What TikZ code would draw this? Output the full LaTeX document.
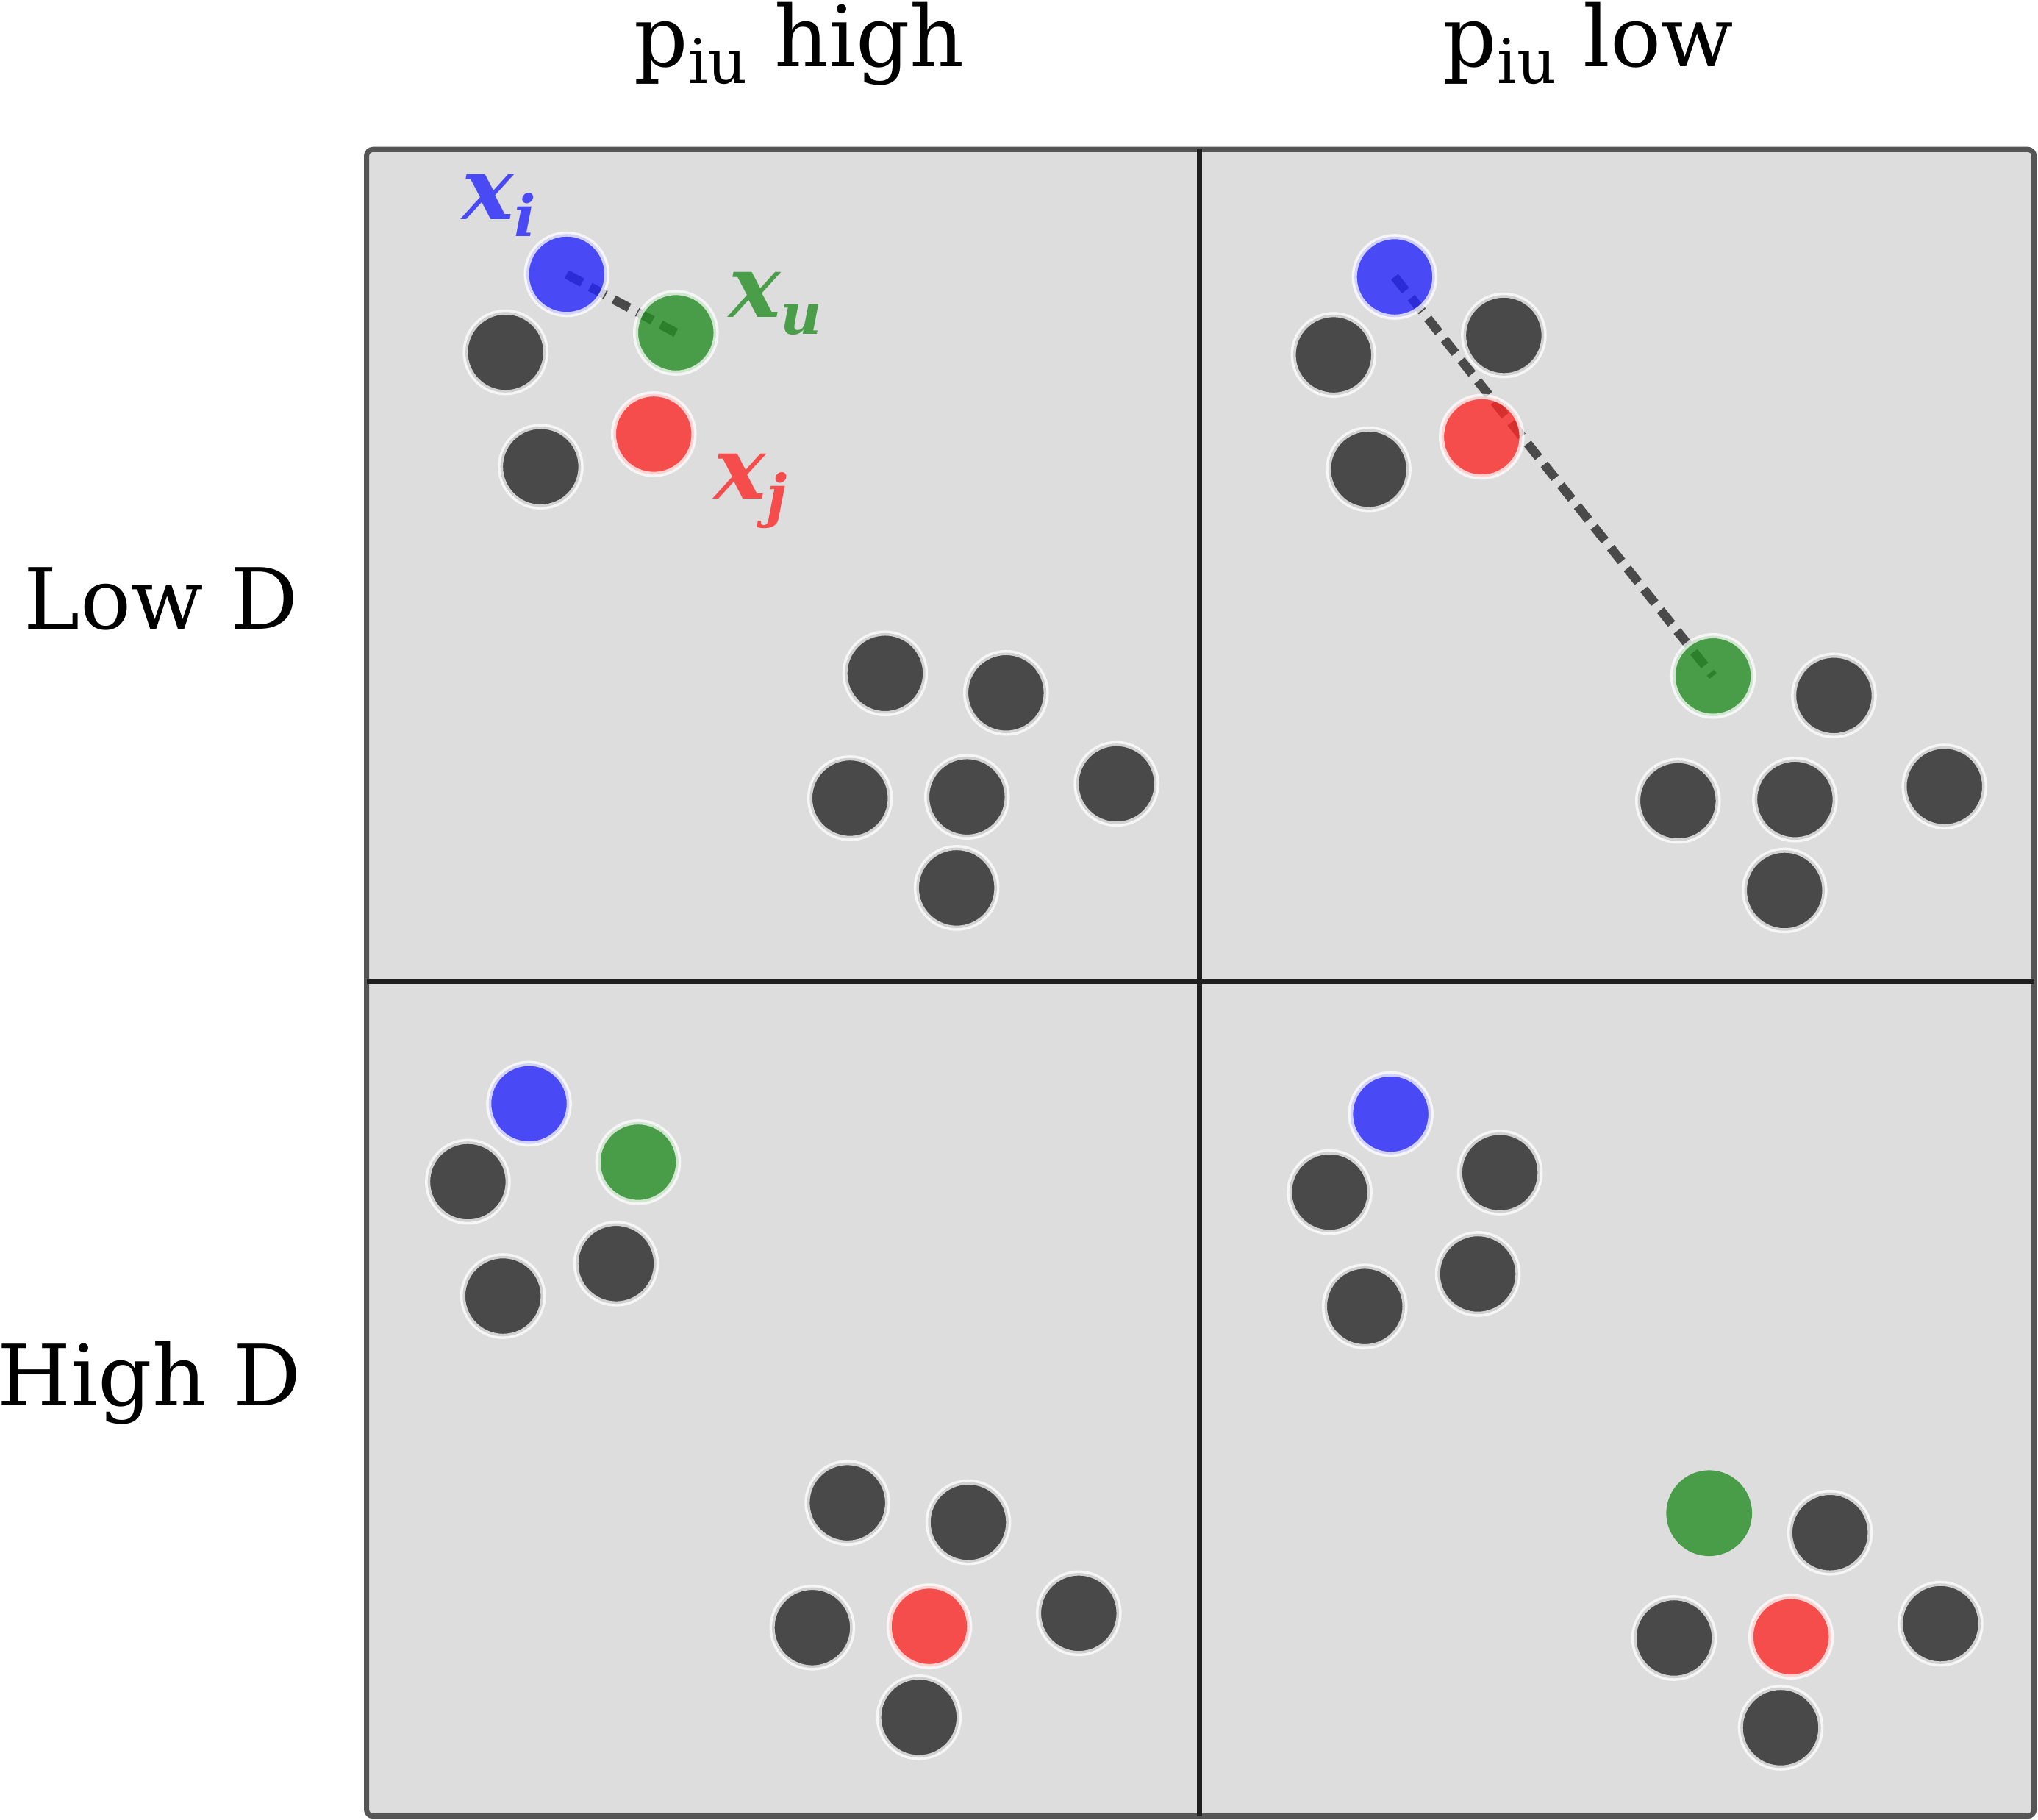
\documentclass[tikz,border=0pt]{standalone}
\usepackage{fontspec}
\setmainfont{DejaVu Serif}
\usepackage{xcolor}
\usetikzlibrary{backgrounds}
\definecolor{dotblue}{RGB}{37,37,251}
\definecolor{dotgreen}{RGB}{37,142,37}
\definecolor{dotred}{RGB}{251,40,40}
\definecolor{dotgray}{RGB}{37,37,37}
\definecolor{labelblue}{RGB}{74,74,245}
\definecolor{labelgreen}{RGB}{74,158,74}
\definecolor{labelred}{RGB}{245,76,76}
\definecolor{panelgray}{RGB}{221,221,221}
\definecolor{bordergray}{RGB}{85,85,85}
\definecolor{linegray}{RGB}{74,74,74}
\newcommand{\piu}{p{\fontsize{13.5}{14}\selectfont\raisebox{-3.8pt}{iu}}}
\newcommand{\xsub}[1]{x{\fontsize{12.5}{13}\selectfont\raisebox{-3.7pt}{#1}}}
\tikzset{
    dot/.style = {circle, inner sep=0pt, minimum size=6.2mm, draw=white, draw opacity=0.75, line width=0.4mm, fill opacity=0.8},
    dot-gray/.style = {dot, fill=dotgray},
    dot-blue/.style = {dot, fill=dotblue},
    dot-green/.style = {dot, fill=dotgreen},
    dot-red/.style = {dot, fill=dotred},
    dot-big/.style = {circle, inner sep=0pt, minimum size=6.6mm, fill=dotgreen, fill opacity=0.8},
    panel/.style = {draw=bordergray, fill=panelgray, line width=0.4mm, rounded corners=0.5mm},
    divider/.style = {draw=black!88, line width=0.4mm},
    link/.style = {draw=linegray, line width=0.7mm, dash pattern=on 1.35mm off 0.7mm},
    head/.style = {font=\fontsize{18.5}{20}\selectfont, anchor=base, inner sep=0pt},
    point-label/.style = {font=\fontsize{19}{20}\selectfont\bfseries\itshape, anchor=base west, inner sep=0pt},
}

\begin{document}
\begin{tikzpicture}[x=0.1mm, y=-0.1mm]
\useasboundingbox (0,0) rectangle (1568,1400);

% headings
\node [head] (col-high) at (615,51) {\piu{} high};
\node [head] (col-low) at (1222,51) {\piu{} low};
\node [head] (row-low) at (124,484) {Low D};
\node [head] (row-high) at (115,1081) {High D};

% low D, p high
\node [dot-blue] (a-i) at (436,211) {};
\node [dot-gray] (a-1) at (389,271) {};
\node [dot-green] (a-u) at (520,256) {};
\node [dot-red] (a-j) at (503,334) {};
\node [dot-gray] (a-2) at (416,359) {};
\node [dot-gray] (a-3) at (681,518) {};
\node [dot-gray] (a-4) at (774,533) {};
\node [dot-gray] (a-5) at (654,614) {};
\node [dot-gray] (a-6) at (744,613) {};
\node [dot-gray] (a-7) at (859,603) {};
\node [dot-gray] (a-8) at (736,683) {};
\node [point-label, text=labelblue] (lab-i) at (355,169) {\xsub{i}};
\node [point-label, text=labelgreen] (lab-u) at (560,244) {\xsub{u}};
\node [point-label, text=labelred] (lab-j) at (549,384) {\xsub{j}};

% low D, p low
\node [dot-blue] (b-i) at (1073,213) {};
\node [dot-gray] (b-1) at (1026,273) {};
\node [dot-gray] (b-2) at (1157,258) {};
\node [dot-red] (b-j) at (1140,336) {};
\node [dot-gray] (b-3) at (1053,361) {};
\node [dot-green] (b-u) at (1318,520) {};
\node [dot-gray] (b-4) at (1411,535) {};
\node [dot-gray] (b-5) at (1291,616) {};
\node [dot-gray] (b-6) at (1381,615) {};
\node [dot-gray] (b-7) at (1496,605) {};
\node [dot-gray] (b-8) at (1373,685) {};

% high D, p high
\node [dot-blue] (c-i) at (407,849) {};
\node [dot-gray] (c-1) at (360,909) {};
\node [dot-green] (c-u) at (491,894) {};
\node [dot-gray] (c-2) at (474,972) {};
\node [dot-gray] (c-3) at (387,997) {};
\node [dot-gray] (c-4) at (652,1156) {};
\node [dot-gray] (c-5) at (745,1171) {};
\node [dot-gray] (c-6) at (625,1252) {};
\node [dot-red] (c-j) at (715,1251) {};
\node [dot-gray] (c-7) at (830,1241) {};
\node [dot-gray] (c-8) at (707,1321) {};

% high D, p low
\node [dot-blue] (d-i) at (1070,857) {};
\node [dot-gray] (d-1) at (1023,917) {};
\node [dot-gray] (d-2) at (1154,902) {};
\node [dot-gray] (d-3) at (1137,980) {};
\node [dot-gray] (d-4) at (1050,1005) {};
\node [dot-big] (d-u) at (1315,1164) {};
\node [dot-gray] (d-5) at (1408,1179) {};
\node [dot-gray] (d-6) at (1288,1260) {};
\node [dot-red] (d-j) at (1378,1259) {};
\node [dot-gray] (d-7) at (1493,1249) {};
\node [dot-gray] (d-8) at (1370,1329) {};

\begin{pgfonlayer}{background}
\draw [panel] (282,115) rectangle (1565,1397);
\draw [divider] (923,115) -- (923,1397);
\draw [divider] (282,755) -- (1565,755);
\draw [link] (a-i.center) -- (a-u.center);
\draw [link] (b-i.center) -- (b-u.center);
\end{pgfonlayer}
\end{tikzpicture}
\end{document}
